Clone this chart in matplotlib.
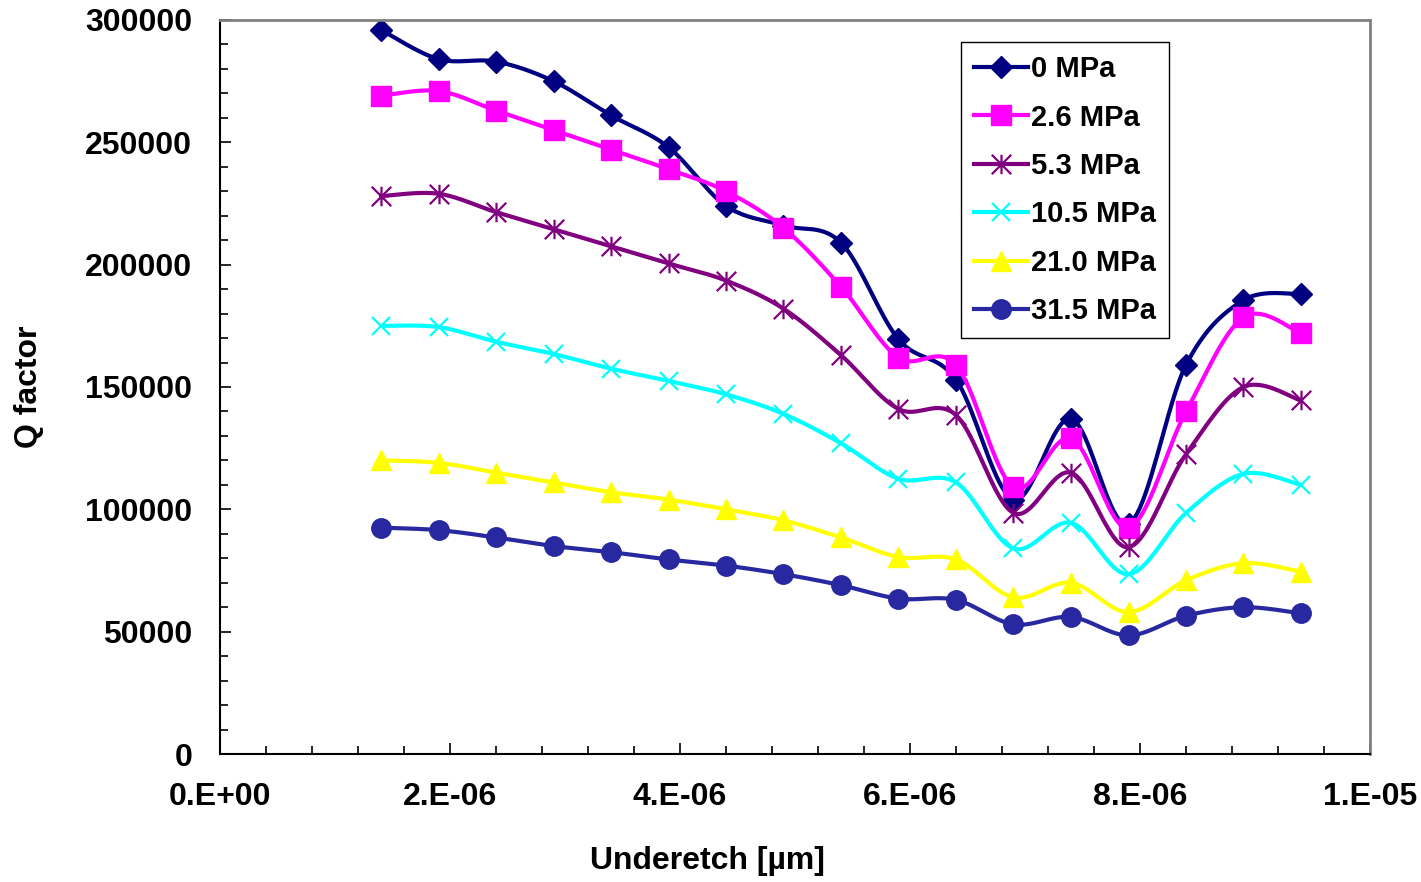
import matplotlib
matplotlib.use("Agg")
import matplotlib.pyplot as plt
import numpy as np
from matplotlib.path import Path
from matplotlib.lines import Line2D
from matplotlib.ticker import MultipleLocator, FuncFormatter

plt.rcParams['font.family'] = ['Liberation Sans', 'DejaVu Sans']
plt.rcParams['font.weight'] = 'bold'

# Underetch positions (m)
underetch = [1.4e-6, 1.9e-6, 2.4e-6, 2.9e-6, 3.4e-6, 3.9e-6, 4.4e-6, 4.9e-6, 5.4e-6,
             5.9e-6, 6.4e-6, 6.9e-6, 7.4e-6, 7.9e-6, 8.4e-6, 8.9e-6, 9.4e-6]

# Q factor per stress level
q_0 = [296000, 284000, 283000, 275000, 261000, 248000, 224000, 216000, 209000,
       169500, 153000, 104000, 137000, 94000, 159000, 185500, 188000]
q_2_6 = [269000, 271000, 263000, 255000, 247000, 239000, 230000, 215000, 191000,
         162000, 159000, 109000, 129000, 92500, 140000, 178500, 172000]
q_5_3 = [228000, 229000, 221500, 214500, 207500, 200500, 193500, 182000, 163000,
         141000, 138500, 98500, 115000, 84500, 122500, 150000, 144500]
q_10_5 = [175000, 174500, 168500, 163500, 157500, 152500, 147000, 139000, 127000,
          112500, 111000, 84000, 94500, 73500, 98500, 114500, 110000]
q_21_0 = [120000, 119000, 115000, 111000, 107000, 104000, 100000, 95500, 88500,
          80500, 79500, 64000, 70000, 58000, 71000, 78000, 74500]
q_31_5 = [92500, 91500, 88500, 85000, 82500, 79500, 77000, 73500, 69000,
          63500, 63000, 53000, 56000, 48500, 56500, 60000, 57500]

labels = ["0 MPa", "2.6 MPa", "5.3 MPa", "10.5 MPa", "21.0 MPa", "31.5 MPa"]
colors = ["#000080", "#FF00FF", "#800080", "#00FFFF", "#FFFF00", "#2828A0"]

# Excel-like asterisk: vertical bar plus an X
asterisk = Path([(0, -1), (0, 1), (-1, -1), (1, 1), (-1, 1), (1, -1)],
                [Path.MOVETO, Path.LINETO, Path.MOVETO, Path.LINETO, Path.MOVETO, Path.LINETO])
marker_styles = [
    dict(marker='D', ms=11),
    dict(marker='s', ms=14),
    dict(marker=asterisk, ms=14, mew=1.6, mfc='none'),
    dict(marker='x', ms=13, mew=1.6),
    dict(marker='^', ms=14),
    dict(marker='o', ms=14),
]


def smooth(x, y, n=20):
    # Catmull-Rom style bezier smoothing (like Excel's smoothed line)
    x = np.asarray(x, float)
    y = np.asarray(y, float)
    px = np.concatenate([[x[0]], x, [x[-1]]])
    py = np.concatenate([[y[0]], y, [y[-1]]])
    t = np.linspace(0, 1, n, endpoint=False)
    xs, ys = [], []
    for i in range(1, len(px) - 2):
        p0, p1, p2, p3 = px[i - 1], px[i], px[i + 1], px[i + 2]
        q0, q1, q2, q3 = py[i - 1], py[i], py[i + 1], py[i + 2]
        c1x, c1y = p1 + (p2 - p0) / 6, q1 + (q2 - q0) / 6
        c2x, c2y = p2 - (p3 - p1) / 6, q2 - (q3 - q1) / 6
        b0, b1, b2, b3 = (1 - t) ** 3, 3 * (1 - t) ** 2 * t, 3 * (1 - t) * t ** 2, t ** 3
        xs.append(b0 * p1 + b1 * c1x + b2 * c2x + b3 * p2)
        ys.append(b0 * q1 + b1 * c1y + b2 * c2y + b3 * q2)
    xs.append([x[-1]])
    ys.append([y[-1]])
    return np.concatenate(xs), np.concatenate(ys)


fig = plt.figure(figsize=(14.21, 8.82), dpi=100)
ax = fig.add_axes([220 / 1421, 128 / 882, 1150 / 1421, 734 / 882])

series = [q_0, q_2_6, q_5_3, q_10_5, q_21_0, q_31_5]
handles = []
for vals, col, lab, ms in zip(series, colors, labels, marker_styles):
    sx, sy = smooth(underetch, vals)
    ax.plot(sx, sy, color=col, lw=3, solid_capstyle='round')
    ax.plot(underetch, vals, linestyle='none', color=col, mec=col, **ms)
    handles.append(Line2D([], [], color=col, lw=3, mec=col, label=lab, **ms))

ax.set_xlim(0, 1e-5)
ax.set_ylim(0, 300000)

ax.xaxis.set_major_locator(MultipleLocator(2e-6))
ax.xaxis.set_minor_locator(MultipleLocator(4e-7))
ax.yaxis.set_major_locator(MultipleLocator(50000))
ax.yaxis.set_minor_locator(MultipleLocator(10000))


def sci_fmt(v, pos):
    if abs(v) < 1e-12:
        return "0.E+00"
    e = int(np.floor(np.log10(abs(v)) + 1e-9))
    m = int(round(v / 10 ** e))
    return f"{m}.E{e:+03d}"


ax.xaxis.set_major_formatter(FuncFormatter(sci_fmt))
ax.yaxis.set_major_formatter(FuncFormatter(lambda v, p: f"{int(v)}"))

ax.tick_params(axis='both', which='major', direction='in', length=8, width=1.2, labelsize=23)
ax.tick_params(axis='both', which='minor', direction='in', length=6, width=1.2)
ax.tick_params(axis='x', which='major', pad=20)
ax.tick_params(axis='y', which='major', pad=20)

for s in ['left', 'bottom']:
    ax.spines[s].set_color('black')
    ax.spines[s].set_linewidth(1.5)
for s in ['top', 'right']:
    ax.spines[s].set_color('#808080')
    ax.spines[s].set_linewidth(2)

ax.set_xlabel("Underetch [µm]", fontsize=23, fontweight='bold')
ax.xaxis.set_label_coords(0.424, -0.125)
ax.set_ylabel("Q factor", fontsize=23, fontweight='bold')
ax.yaxis.set_label_coords(-0.153, 0.5)

leg = ax.legend(handles=handles, loc='upper left', bbox_to_anchor=(961 / 1421, 1 - 42 / 882),
                bbox_transform=fig.transFigure, fontsize=21, numpoints=1, handlelength=1.85,
                handletextpad=0.1, labelspacing=0.7, borderpad=0.45, borderaxespad=0,
                fancybox=False, framealpha=1, edgecolor='black')
leg.get_frame().set_linewidth(1)

fig.savefig("out.png", dpi=100)
